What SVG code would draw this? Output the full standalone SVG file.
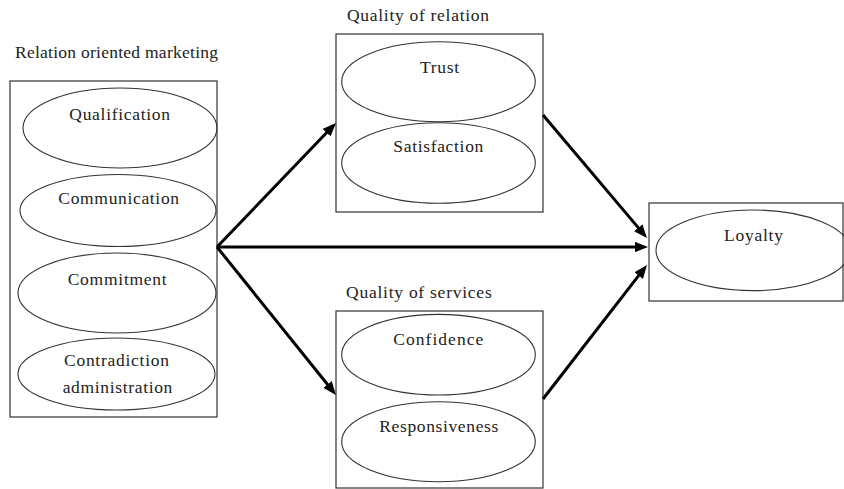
<svg xmlns="http://www.w3.org/2000/svg" width="844" height="489" viewBox="0 0 844 489">
<style>
.box{fill:none;stroke:#333;stroke-width:1.2}
.ell{fill:none;stroke:#333;stroke-width:1.1}
text{font-family:"Liberation Serif","Times New Roman",serif;font-size:17.5px;fill:#222}
.c{text-anchor:middle}
.arr{stroke:#000;stroke-width:3;fill:none;marker-end:url(#ah)}
</style>
<defs>
<marker id="ah" markerUnits="strokeWidth" markerWidth="4.5" markerHeight="3.6" refX="2.5" refY="1.8" orient="auto">
<path d="M0,0 L4.5,1.8 L0,3.6 z" fill="#000"/>
</marker>
</defs>
<rect width="844" height="489" fill="#fff"/>
<g id="relation-oriented-marketing">
<text x="15" y="58" textLength="203" lengthAdjust="spacing">Relation oriented marketing</text>
<rect class="box" x="10" y="81" width="207" height="336"/>
<ellipse class="ell" cx="120" cy="128" rx="97" ry="40"/>
<text class="c" x="119.7" y="120" textLength="100.7" lengthAdjust="spacing">Qualification</text>
<ellipse class="ell" cx="118" cy="210.5" rx="98" ry="36"/>
<text class="c" x="118.7" y="204" textLength="120.7" lengthAdjust="spacing">Communication</text>
<ellipse class="ell" cx="117" cy="293" rx="99" ry="40"/>
<text class="c" x="117.2" y="285" textLength="99" lengthAdjust="spacing">Commitment</text>
<ellipse class="ell" cx="116.5" cy="374" rx="98.5" ry="36"/>
<text class="c" x="116.5" y="366" textLength="105" lengthAdjust="spacing">Contradiction</text>
<text class="c" x="117.5" y="393" textLength="109.7" lengthAdjust="spacing">administration</text>
</g>
<g id="quality-of-relation">
<text x="347" y="21" textLength="142" lengthAdjust="spacing">Quality of relation</text>
<rect class="box" x="336" y="34" width="207" height="178"/>
<ellipse class="ell" cx="438.5" cy="81.7" rx="96.8" ry="40"/>
<text class="c" x="439.5" y="73" textLength="39" lengthAdjust="spacing">Trust</text>
<ellipse class="ell" cx="438.5" cy="163" rx="96.8" ry="40.3"/>
<text class="c" x="438.3" y="152" textLength="90" lengthAdjust="spacing">Satisfaction</text>
</g>
<g id="quality-of-services">
<text x="346" y="298" textLength="145.7" lengthAdjust="spacing">Quality of services</text>
<rect class="box" x="336" y="311" width="207" height="177"/>
<ellipse class="ell" cx="438.5" cy="354.7" rx="96.8" ry="40.3"/>
<text class="c" x="438.3" y="345" textLength="90" lengthAdjust="spacing">Confidence</text>
<ellipse class="ell" cx="438.5" cy="441.7" rx="96.8" ry="40"/>
<text class="c" x="438.8" y="432" textLength="119" lengthAdjust="spacing">Responsiveness</text>
</g>
<g id="loyalty">
<rect class="box" x="649" y="203" width="194" height="98"/>
<ellipse class="ell" cx="753" cy="250.3" rx="97" ry="40.3"/>
<text class="c" x="753.5" y="241" textLength="59" lengthAdjust="spacing">Loyalty</text>
</g>
<g id="connectors">
<line class="arr" x1="217" y1="247" x2="331.8" y2="127.3"/>
<line class="arr" x1="217" y1="247" x2="642" y2="247"/>
<line class="arr" x1="217" y1="247" x2="332.2" y2="390.3"/>
<line class="arr" x1="543" y1="115" x2="643.1" y2="233.4"/>
<line class="arr" x1="543" y1="399" x2="643.3" y2="269.7"/>
</g>
</svg>
